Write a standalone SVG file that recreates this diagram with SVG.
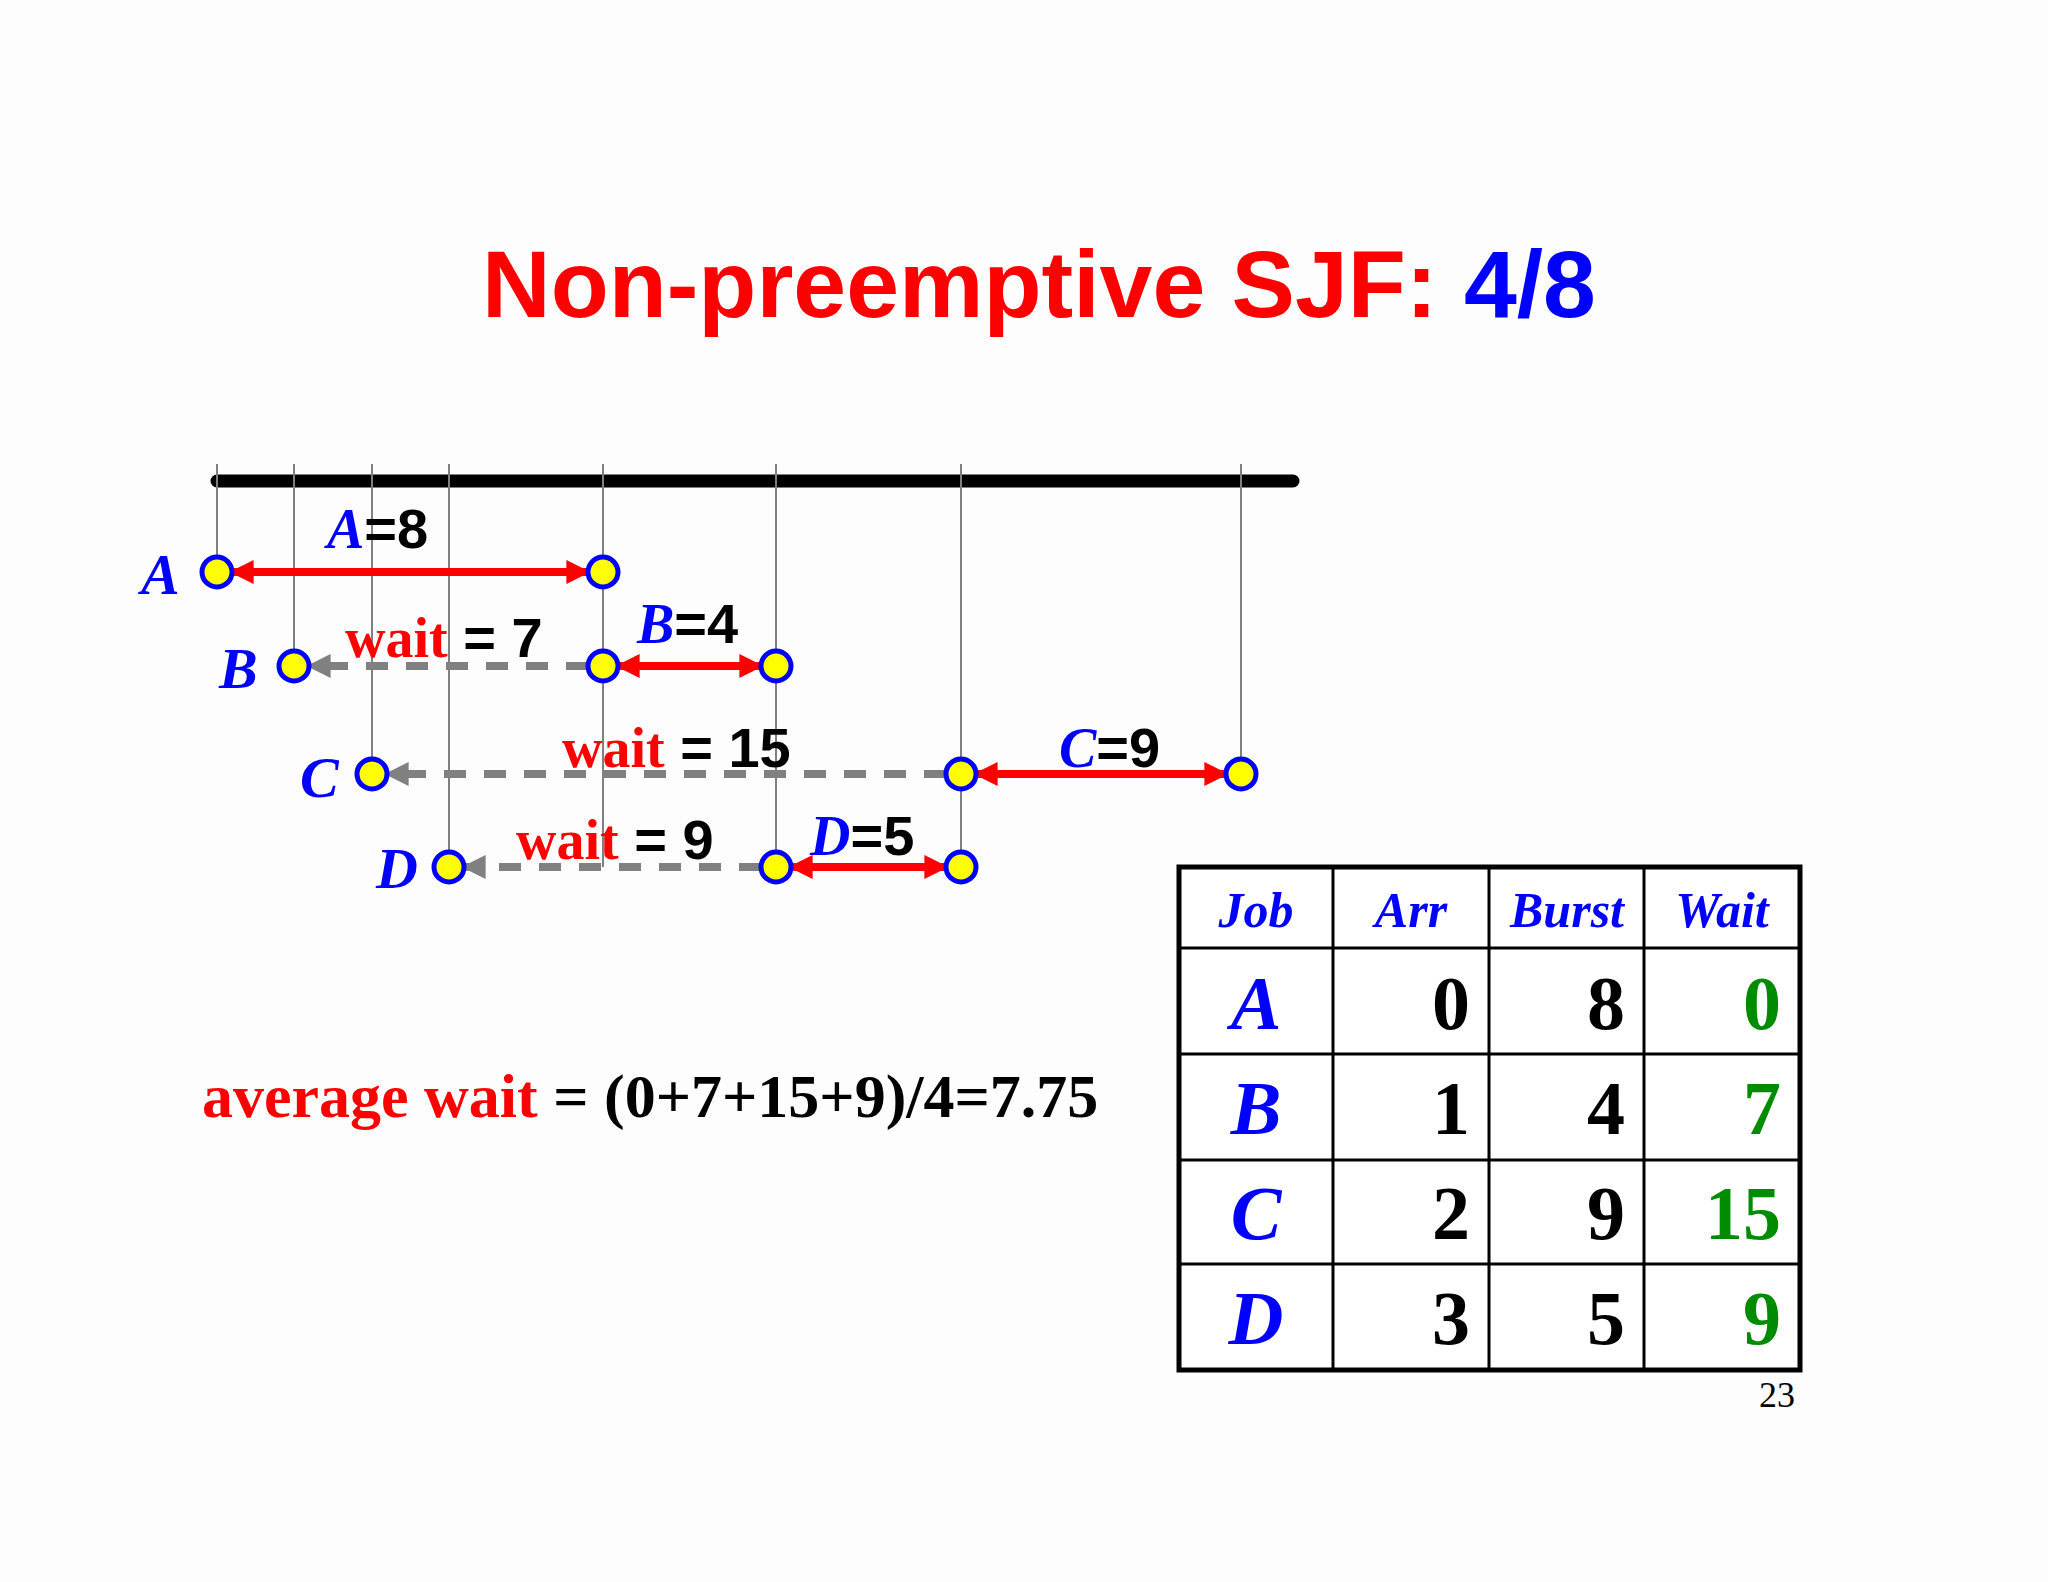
<svg xmlns="http://www.w3.org/2000/svg" width="2048" height="1582" viewBox="0 0 2048 1582">
<defs>
<marker id="ah" viewBox="0 0 10 10" refX="9" refY="5" markerWidth="3" markerHeight="3" orient="auto-start-reverse"><path d="M0,0 L10,5 L0,10 z" fill="red"/></marker>
<marker id="ag" viewBox="0 0 10 10" refX="9" refY="5" markerWidth="3" markerHeight="3" orient="auto"><path d="M0,0 L10,5 L0,10 z" fill="#808080"/></marker>
</defs>
<style>
.vl{stroke:#808080;stroke-width:2}
.run{stroke:red;stroke-width:8;marker-start:url(#ah);marker-end:url(#ah)}
.wt{stroke:#808080;stroke-width:8;stroke-dasharray:22,18;marker-end:url(#ag)}
.nd{fill:#ffff00;stroke:#0000ff;stroke-width:5}
.lbl{font-family:"Liberation Serif",serif;font-style:italic;font-weight:bold;fill:#0000ff}
.sans{font-family:"Liberation Sans",Arial,sans-serif;font-weight:bold;fill:#000}
.ser{font-family:"Liberation Serif",serif;font-weight:bold}
.red{fill:#ff0000}
.num{font-family:"Liberation Serif",serif;font-weight:bold;font-size:76px;text-anchor:end}
.hd{font-family:"Liberation Serif",serif;font-style:italic;font-weight:bold;fill:#0000ff;font-size:50px;text-anchor:middle}
.rl{font-family:"Liberation Serif",serif;font-style:italic;font-weight:bold;fill:#0000ff;font-size:76px;text-anchor:middle}
</style>
<rect width="2048" height="1582" fill="#fdfdfd"/>
<text x="1039" y="317" text-anchor="middle" font-family="Liberation Sans,Arial,sans-serif" font-weight="bold" font-size="95" fill="#ff0000">Non-preemptive SJF: <tspan fill="#0000ff">4/8</tspan></text>
<line x1="217" y1="481" x2="1293" y2="481" stroke="#000" stroke-width="13" stroke-linecap="round"/>
<g id="connectors">
<line class="vl" x1="217" y1="464" x2="217" y2="572"/>
<line class="vl" x1="294" y1="464" x2="294" y2="666"/>
<line class="vl" x1="372" y1="464" x2="372" y2="774"/>
<line class="vl" x1="449" y1="464" x2="449" y2="867"/>
<line class="vl" x1="603" y1="464" x2="603" y2="867"/>
<line class="vl" x1="776" y1="464" x2="776" y2="867"/>
<line class="vl" x1="961" y1="464" x2="961" y2="867"/>
<line class="vl" x1="1241" y1="464" x2="1241" y2="774"/>
<line class="run" x1="232" y1="572" x2="588" y2="572"/>
<line class="wt" x1="588" y1="666" x2="309" y2="666"/>
<line class="run" x1="618" y1="666" x2="761" y2="666"/>
<line class="wt" x1="946" y1="774" x2="387" y2="774"/>
<line class="run" x1="976" y1="774" x2="1226" y2="774"/>
<line class="wt" x1="761" y1="867" x2="464" y2="867"/>
<line class="run" x1="791" y1="867" x2="946" y2="867"/>
</g>
<g id="A"><circle class="nd" cx="217" cy="572" r="15"/><circle class="nd" cx="603" cy="572" r="15"/><text class="lbl" x="141" y="594" font-size="58">A</text><text x="327" y="548" font-size="56"><tspan class="lbl">A</tspan><tspan class="sans">=8</tspan></text></g>
<g id="B"><circle class="nd" cx="294" cy="666" r="15"/><circle class="nd" cx="603" cy="666" r="15"/><circle class="nd" cx="776" cy="666" r="15"/><text class="lbl" x="219" y="688" font-size="58">B</text><text x="345" y="657" font-size="56"><tspan class="ser red">wait</tspan><tspan class="sans"> = 7</tspan></text><text x="637" y="643" font-size="56"><tspan class="lbl">B</tspan><tspan class="sans">=4</tspan></text></g>
<g id="C"><circle class="nd" cx="372" cy="774" r="15"/><circle class="nd" cx="961" cy="774" r="15"/><circle class="nd" cx="1241" cy="774" r="15"/><text class="lbl" x="300" y="797" font-size="58">C</text><text x="562" y="767" font-size="56"><tspan class="ser red">wait</tspan><tspan class="sans"> = 15</tspan></text><text x="1059" y="767" font-size="56"><tspan class="lbl">C</tspan><tspan class="sans">=9</tspan></text></g>
<g id="D"><circle class="nd" cx="449" cy="867" r="15"/><circle class="nd" cx="776" cy="867" r="15"/><circle class="nd" cx="961" cy="867" r="15"/><text class="lbl" x="376" y="888" font-size="58">D</text><text x="516" y="859" font-size="56"><tspan class="ser red">wait</tspan><tspan class="sans"> = 9</tspan></text><text x="810" y="855" font-size="56"><tspan class="lbl">D</tspan><tspan class="sans">=5</tspan></text></g>
<text x="202" y="1117" class="ser" font-size="62"><tspan class="red">average wait</tspan> = (0+7+15+9)/4=7.75</text>
<g id="table">
<rect x="1179" y="867" width="621" height="503" fill="#fff" stroke="#000" stroke-width="5"/>
<g stroke="#000" stroke-width="3">
<line x1="1333" y1="867" x2="1333" y2="1370"/><line x1="1489" y1="867" x2="1489" y2="1370"/><line x1="1644" y1="867" x2="1644" y2="1370"/>
<line x1="1179" y1="948" x2="1800" y2="948"/><line x1="1179" y1="1054" x2="1800" y2="1054"/><line x1="1179" y1="1160" x2="1800" y2="1160"/><line x1="1179" y1="1264" x2="1800" y2="1264"/>
</g>
<text class="hd" x="1256" y="927">Job</text><text class="hd" x="1411" y="927">Arr</text><text class="hd" x="1567" y="927">Burst</text><text class="hd" x="1722" y="927">Wait</text>
<text class="rl" x="1256" y="1029">A</text><text class="num" x="1470" y="1029">0</text><text class="num" x="1625" y="1029">8</text><text class="num" x="1781" y="1029" fill="#008c00">0</text>
<text class="rl" x="1256" y="1134">B</text><text class="num" x="1470" y="1134">1</text><text class="num" x="1625" y="1134">4</text><text class="num" x="1781" y="1134" fill="#008c00">7</text>
<text class="rl" x="1256" y="1239">C</text><text class="num" x="1470" y="1239">2</text><text class="num" x="1625" y="1239">9</text><text class="num" x="1781" y="1239" fill="#008c00">15</text>
<text class="rl" x="1256" y="1344">D</text><text class="num" x="1470" y="1344">3</text><text class="num" x="1625" y="1344">5</text><text class="num" x="1781" y="1344" fill="#008c00">9</text>
</g>
<text x="1795" y="1407" text-anchor="end" font-family="Liberation Serif,serif" font-size="36">23</text>
</svg>
